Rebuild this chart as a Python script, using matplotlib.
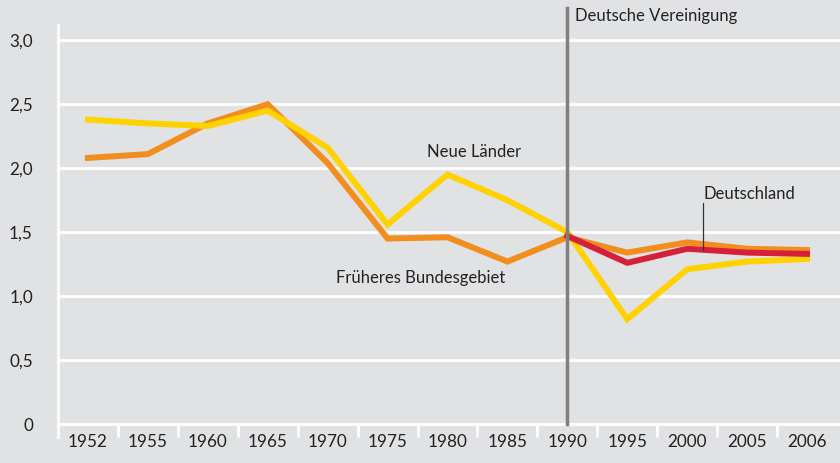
import numpy as np
import matplotlib.pyplot as plt
from matplotlib.ticker import FixedLocator

years = ['1952', '1955', '1960', '1965', '1970', '1975', '1980', '1985',
         '1990', '1995', '2000', '2005', '2006']
frueheres = [2.08, 2.11, 2.35, 2.50, 2.04, 1.45, 1.46, 1.27, 1.46, 1.34, 1.42, 1.37, 1.36]
neue = [2.38, 2.35, 2.33, 2.45, 2.16, 1.56, 1.95, 1.75, 1.50, 0.82, 1.21, 1.27, 1.29]
deutschland_years = ['1990', '1995', '2000', '2005', '2006']
deutschland = [1.47, 1.26, 1.37, 1.34, 1.33]
yticks = [0, 0.5, 1.0, 1.5, 2.0, 2.5, 3.0]
ylabels = ['0', '0,5', '1,0', '1,5', '2,0', '2,5', '3,0']

bg = '#e1e2e4'
txt = '#222222'
plt.rcParams['font.family'] = ['Lato', 'DejaVu Sans']

fig = plt.figure(figsize=(8.4, 4.63), dpi=100, facecolor=bg)
ax = fig.add_axes([0.069, 0.0842, 0.931, 0.862])
ax.set_facecolor(bg)

x = np.arange(len(years))
xd = np.array([years.index(y) for y in deutschland_years])

# grid
for t in yticks:
    ax.axhline(t, color='white', lw=2, zorder=1)

ax.plot(x, frueheres, color='#f28e1e', lw=4.3, zorder=3, solid_joinstyle='miter')
ax.plot(x, neue, color='#ffd200', lw=4.3, zorder=4, solid_joinstyle='miter')
ax.plot(xd, deutschland, color='#d6203a', lw=4.3, zorder=5, solid_joinstyle='miter')

# Vereinigung line
ax.plot([8, 8], [0, 3.25], color='#808080', lw=2.5, zorder=6, clip_on=False)
ax.text(8.13, 3.19, 'Deutsche Vereinigung', fontsize=12, color=txt,
        va='center', ha='left')

ax.text(6.44, 2.13, 'Neue Länder', fontsize=12, color=txt, ha='center', va='center')
ax.text(5.56, 1.14, 'Früheres Bundesgebiet', fontsize=12, color=txt,
        ha='center', va='center')
ax.text(11.03, 1.80, 'Deutschland', fontsize=12, color=txt, ha='center', va='center')
ax.plot([10.27, 10.27], [1.36, 1.73], color='#333333', lw=0.9, zorder=7)

ax.set_xlim(-0.5, 12.55)
ax.set_ylim(0, 3.12)
ax.set_yticks(yticks)
ax.set_yticklabels(ylabels)
ax.set_xticks(x)
ax.set_xticklabels(years)
ax.xaxis.set_minor_locator(FixedLocator(np.arange(0.5, 12.5, 1.0)))
ax.tick_params(axis='x', which='major', length=0, labelsize=12.3, pad=7, labelcolor=txt)
ax.tick_params(axis='x', which='minor', length=9, width=2, color='white', direction='out')
ax.tick_params(axis='y', length=0, labelsize=12.3, pad=18, labelcolor=txt)

for s in ['top', 'right']:
    ax.spines[s].set_visible(False)
ax.spines['left'].set_color('white')
ax.spines['left'].set_linewidth(2)
ax.spines['left'].set_bounds(-0.1, 3.12)
ax.spines['bottom'].set_color('white')
ax.spines['bottom'].set_linewidth(2)
ax.spines['left'].set_clip_on(False)

plt.savefig('out.png', dpi=100, facecolor=bg)
